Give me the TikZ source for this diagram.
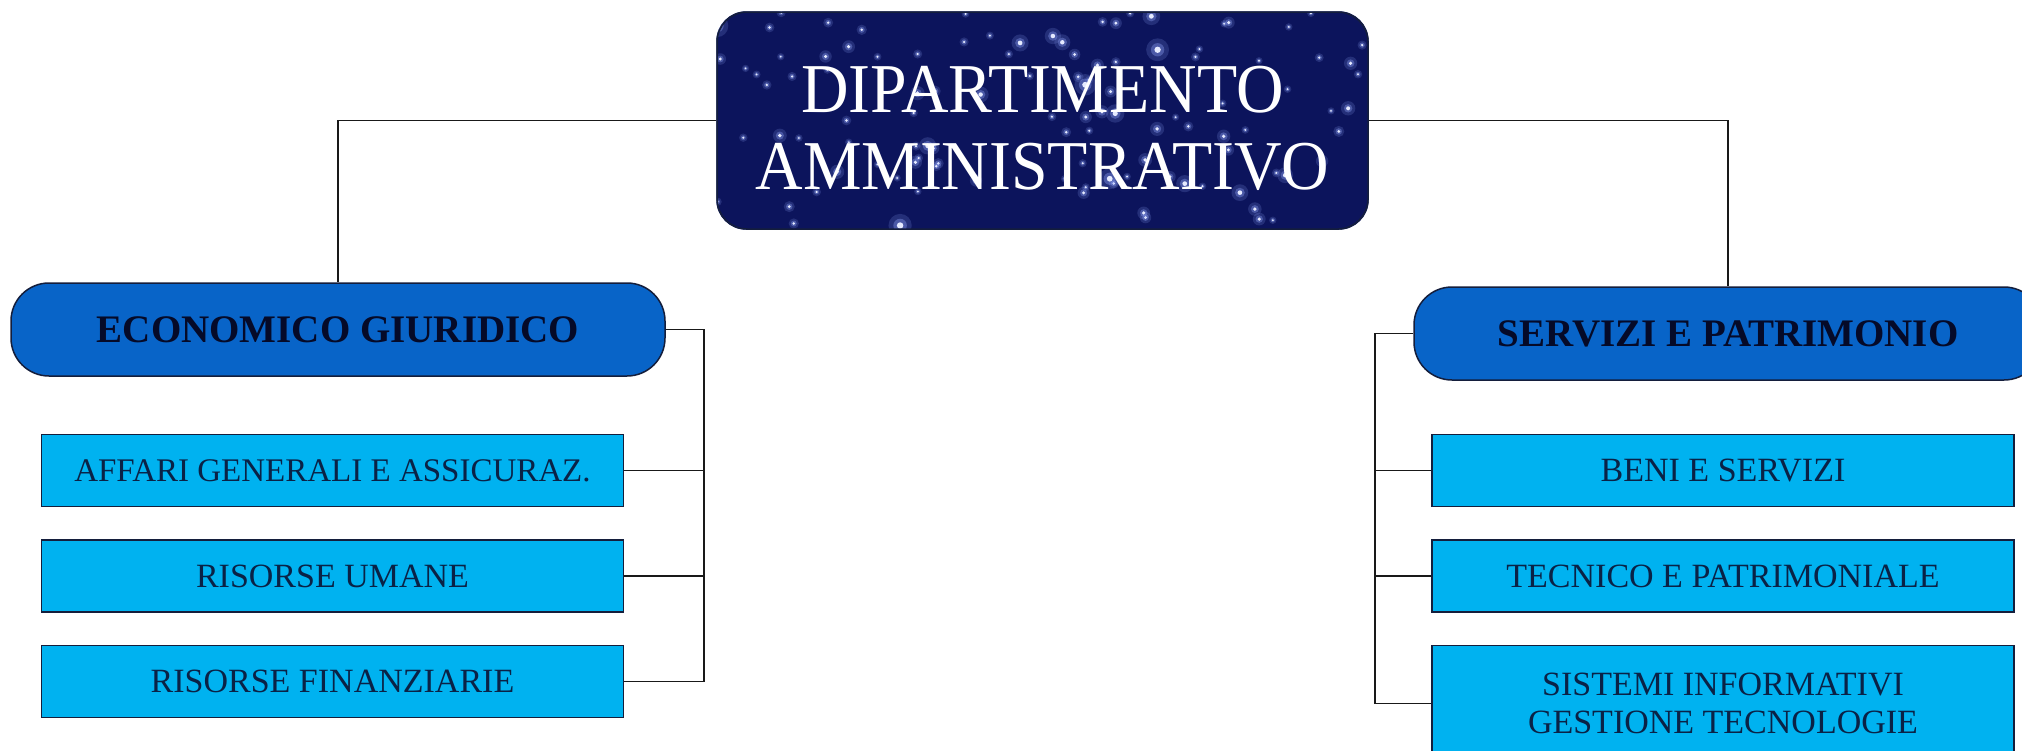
\documentclass[tikz,border=0pt]{standalone}
\usepackage{fontspec}
\setmainfont{Liberation Serif}
\newfontfamily\narrowserif{Liberation Serif}[FakeStretch=0.94]
\usetikzlibrary{positioning,backgrounds}

\definecolor{nightblue}{RGB}{12,20,92}
\definecolor{starblue}{RGB}{150,170,255}
\definecolor{deptblue}{RGB}{8,100,200}
\definecolor{unitblue}{RGB}{0,178,240}
\definecolor{inkblue}{RGB}{10,34,70}
\definecolor{rimblue}{RGB}{20,30,60}

\begin{document}
\begin{tikzpicture}[x=1pt, y=-1pt, node distance=32pt,
	dept/.style={draw=rimblue, line width=1.5pt, rounded corners=30pt, minimum width=651pt, minimum height=217pt, inner sep=0pt, align=center, text=white, font=\narrowserif\fontsize{70}{77}\selectfont},
	sect/.style={draw=rimblue, line width=1.5pt, fill=deptblue, rounded corners=38pt, minimum height=93pt, inner sep=0pt, text={rgb,255:red,5;green,10;blue,40}, font=\bfseries\fontsize{39}{44}\selectfont},
	leaf/.style={draw=rimblue, line width=1.5pt, fill=unitblue, minimum width=582pt, minimum height=72pt, inner sep=0pt, align=center, text=inkblue, font=\fontsize{34}{38}\selectfont},
	wire/.style={draw=black!90, line width=1.7pt}]
		\useasboundingbox (0,0) rectangle (2022,750);
		\clip (0,0) rectangle (2022,750);

		\node[dept] (dip) at (1042.5,120.5) {\rule{0pt}{62pt}DIPARTIMENTO\\AMMINISTRATIVO};
		\node[sect, minimum width=654pt] (eco) at (338,329.5) {ECONOMICO GIURIDICO};
		\node[sect, minimum width=628pt] (serv) at (1728,333.5) {SERVIZI E PATRIMONIO};

		\node[leaf, below=57pt of eco, xshift=-5.5pt, font=\fontsize{33}{38}\selectfont] (aff) {AFFARI GENERALI E ASSICURAZ.};
		\node[leaf, below=of aff] (uma) {RISORSE UMANE};
		\node[leaf, below=of uma] (fin) {RISORSE FINANZIARIE};
		\node[leaf, below=53pt of serv, xshift=-5pt] (beni) {BENI E SERVIZI};
		\node[leaf, below=of beni] (tec) {TECNICO E PATRIMONIALE};
		\node[leaf, below=of tec, minimum height=116pt] (sis) {SISTEMI INFORMATIVI\\GESTIONE TECNOLOGIE};

		\begin{scope}[on background layer]
			\fill[white] (0,0) rectangle (2022,750);
			\fill[nightblue, rounded corners=30pt] (dip.north west) rectangle (dip.south east);
			\clip[rounded corners=30pt] (dip.north west) rectangle (dip.south east);
			\pgfmathsetseed{11}
			\foreach \i in {1,...,110} {
				\pgfmathsetmacro{\sx}{717+651*rnd}
				\pgfmathsetmacro{\sy}{12+217*rnd}
				\pgfmathsetmacro{\sr}{1+2.4*rnd*rnd}
				\fill[starblue, opacity=0.18] (\sx,\sy) circle ({3.6*\sr});
				\fill[starblue, opacity=0.35] (\sx,\sy) circle ({2.1*\sr});
				\fill[white!75!starblue] (\sx,\sy) circle ({\sr});
			}
		\end{scope}

		\draw[wire] (dip.west) -| (eco.north);
		\draw[wire] (dip.east) -| (serv.north);
		\draw[wire] (eco.east) -- ++(38,0) coordinate (lb) |- (fin.east);
		\draw[wire] (aff.east) -- (aff.east -| lb);
		\draw[wire] (uma.east) -- (uma.east -| lb);
		\draw[wire] (serv.west) -- ++(-38,0) coordinate (rb) |- (sis.west);
		\draw[wire] (beni.west) -- (beni.west -| rb);
		\draw[wire] (tec.west) -- (tec.west -| rb);
	\end{tikzpicture}
\end{document}
